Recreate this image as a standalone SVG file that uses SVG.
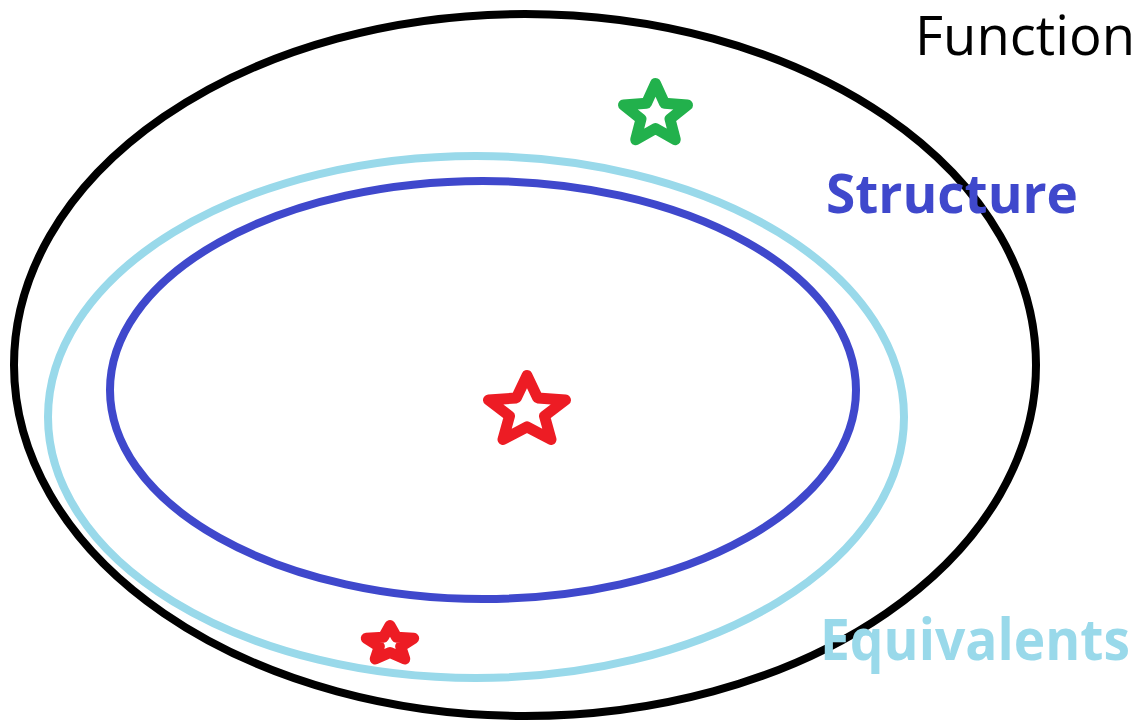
<svg xmlns="http://www.w3.org/2000/svg" width="1145" height="723" viewBox="0 0 1145 723">
<style>
.ell{fill:none;stroke-width:8}
.star{fill:none;stroke-linejoin:round}
.lbl{font-family:"Open Sans","Liberation Sans",sans-serif}
</style>
<rect width="1145" height="723" fill="#fff"/>
<g id="function-set">
<ellipse class="ell" cx="525" cy="365" rx="511" ry="351" stroke="#000"/>
</g>
<g id="equivalents-set">
<ellipse class="ell" cx="476" cy="417" rx="428" ry="261" stroke="#99d9ea"/>
</g>
<g id="structure-set">
<ellipse class="ell" cx="483" cy="390" rx="373" ry="209" stroke="#3f48cc"/>
</g>
<g id="green-star">
<polygon class="star" stroke="#22b14c" stroke-width="11" points="655.5,83.5 664.5,103.3 687.5,105 670,119 675.3,139.7 655.5,128.5 635.7,139.7 641,119 623.5,105 646.5,103.3"/>
</g>
<g id="red-star">
<polygon class="star" stroke="#ed1c24" stroke-width="11" points="527,375.5 537.7,398 565.5,400 544.5,416 551,439.5 527,426.8 503,439.5 509.5,416 488.5,400 516.3,398"/>
</g>
<g id="small-red-star">
<polygon class="star" stroke="#ed1c24" stroke-width="11" points="390,625.5 396.6,637.3 413.7,638.3 400.7,646.6 404.8,659 390,652.4 375.2,659 379.3,646.6 366.3,638.3 383.4,637.3"/>
</g>
<g id="labels">
<text class="lbl" x="915" y="55" font-size="55" fill="#000" textLength="220" lengthAdjust="spacingAndGlyphs">Function</text>
<text class="lbl" x="826" y="213" font-size="53" font-weight="bold" fill="#3f48cc" textLength="252" lengthAdjust="spacingAndGlyphs">Structure</text>
<text class="lbl" x="820" y="660" font-size="57" font-weight="bold" fill="#99d9ea" textLength="310" lengthAdjust="spacingAndGlyphs">Equivalents</text>
</g>
</svg>
